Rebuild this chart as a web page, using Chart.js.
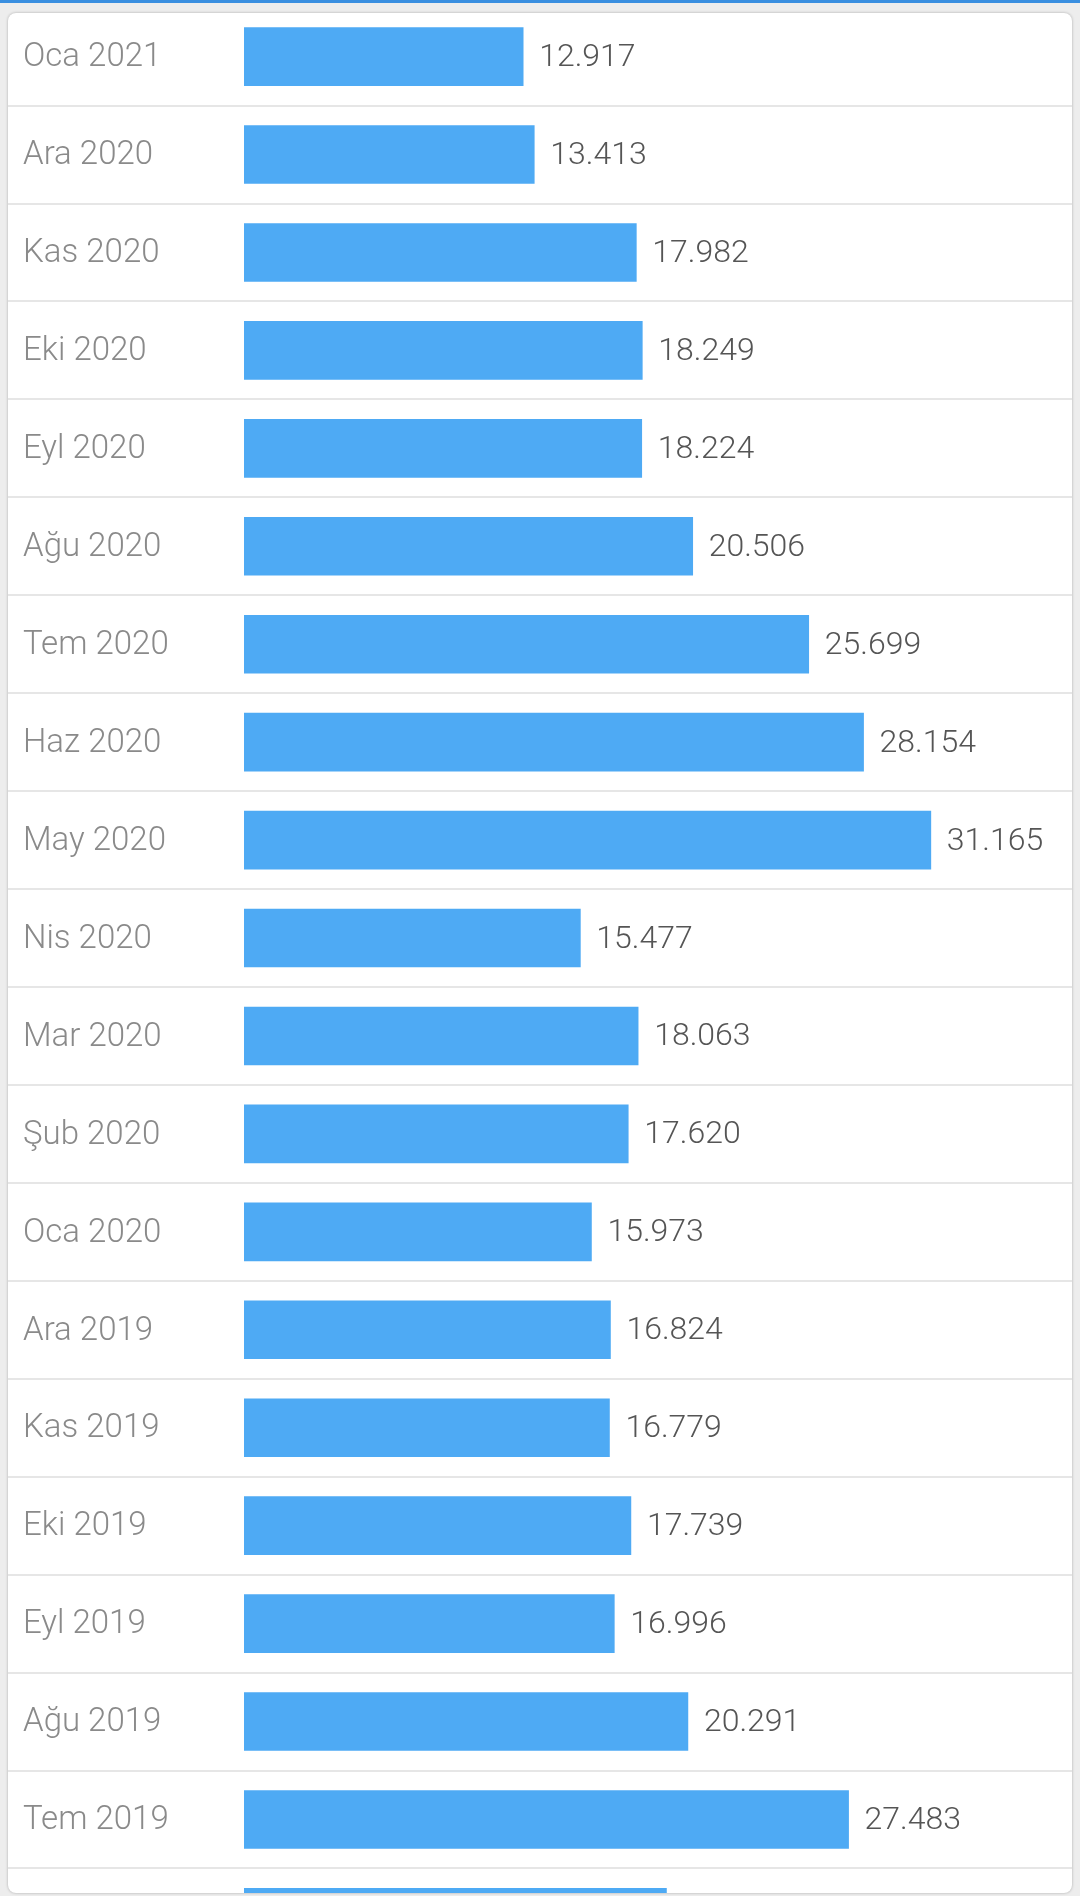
<!DOCTYPE html>
<html>
<head>
<meta charset="utf-8">
<script src="https://cdn.jsdelivr.net/npm/chart.js@4/dist/chart.umd.min.js"></script>
<style>
  html, body { margin: 0; padding: 0; }
  body { width: 1080px; height: 1896px; overflow: hidden; background: #ededed; position: relative; font-family: Roboto, sans-serif; }
  #strip { position: absolute; left: 0; top: 0; width: 1080px; height: 3px; background: #3a8fe0; }
  #card { position: absolute; left: 8px; top: 13px; width: 1064px; height: 1880px; background: #fff; border-radius: 8px; box-shadow: 0 0 3px rgba(0,0,0,0.28); overflow: hidden; }
  #wrap { position: absolute; left: 0; top: -29px; width: 1064px; height: 2006px; }
</style>
</head>
<body>
<div id="strip"></div>
<div id="card"><div id="wrap"><canvas id="c"></canvas></div></div>
<script>
const categories = ["Oca 2021","Ara 2020","Kas 2020","Eki 2020","Eyl 2020","Ağu 2020","Tem 2020","Haz 2020","May 2020","Nis 2020","Mar 2020","Şub 2020","Oca 2020","Ara 2019","Kas 2019","Eki 2019","Eyl 2019","Ağu 2019","Tem 2019","Haz 2019"];
const values = [12917,13413,17982,18249,18224,20506,25699,28154,31165,15477,18063,17620,15973,16824,16779,17739,16996,20291,27483,19330];

const fmt = v => v.toLocaleString('tr-TR');

const valueLabels = {
  id: 'valueLabels',
  afterDatasetsDraw(chart) {
    const ctx = chart.ctx;
    const meta = chart.getDatasetMeta(0);
    ctx.save();
    ctx.font = '300 32px Roboto';
    ctx.fillStyle = '#555555';
    ctx.textAlign = 'left';
    ctx.textBaseline = 'middle';
    meta.data.forEach((bar, i) => {
      ctx.fillText(fmt(values[i]), bar.x + 16, bar.y + 1.5);
    });
    ctx.restore();
  }
};

new Chart(document.getElementById('c'), {
  type: 'bar',
  data: {
    labels: categories,
    datasets: [{
      data: values,
      backgroundColor: '#4eaaf4',
      borderWidth: 0,
      barThickness: 58
    }]
  },
  options: {
    indexAxis: 'y',
    responsive: true,
    maintainAspectRatio: false,
    devicePixelRatio: 1,
    animation: false,
    layout: { padding: { left: 15, right: 0, top: 0, bottom: 0 } },
    plugins: { legend: { display: false }, tooltip: { enabled: false } },
    scales: {
      x: { display: false, min: 420, max: 37484 },
      y: {
        position: 'left',
        afterFit(scale) { scale.width = 221; },
        border: { display: false },
        grid: {
          offset: true,
          drawTicks: true,
          tickLength: 236,
          lineWidth: 2,
          color: ctx => ctx.index === 0 ? 'rgba(0,0,0,0)' : '#e6e6e6'
        },
        ticks: {
          crossAlign: 'far',
          labelOffset: 1.5,
          color: '#8a8a8a',
          font: { family: 'Roboto', size: 33, weight: 300, lineHeight: 1.25 },
          autoSkip: false
        }
      }
    }
  },
  plugins: [valueLabels]
});
</script>
</body>
</html>
